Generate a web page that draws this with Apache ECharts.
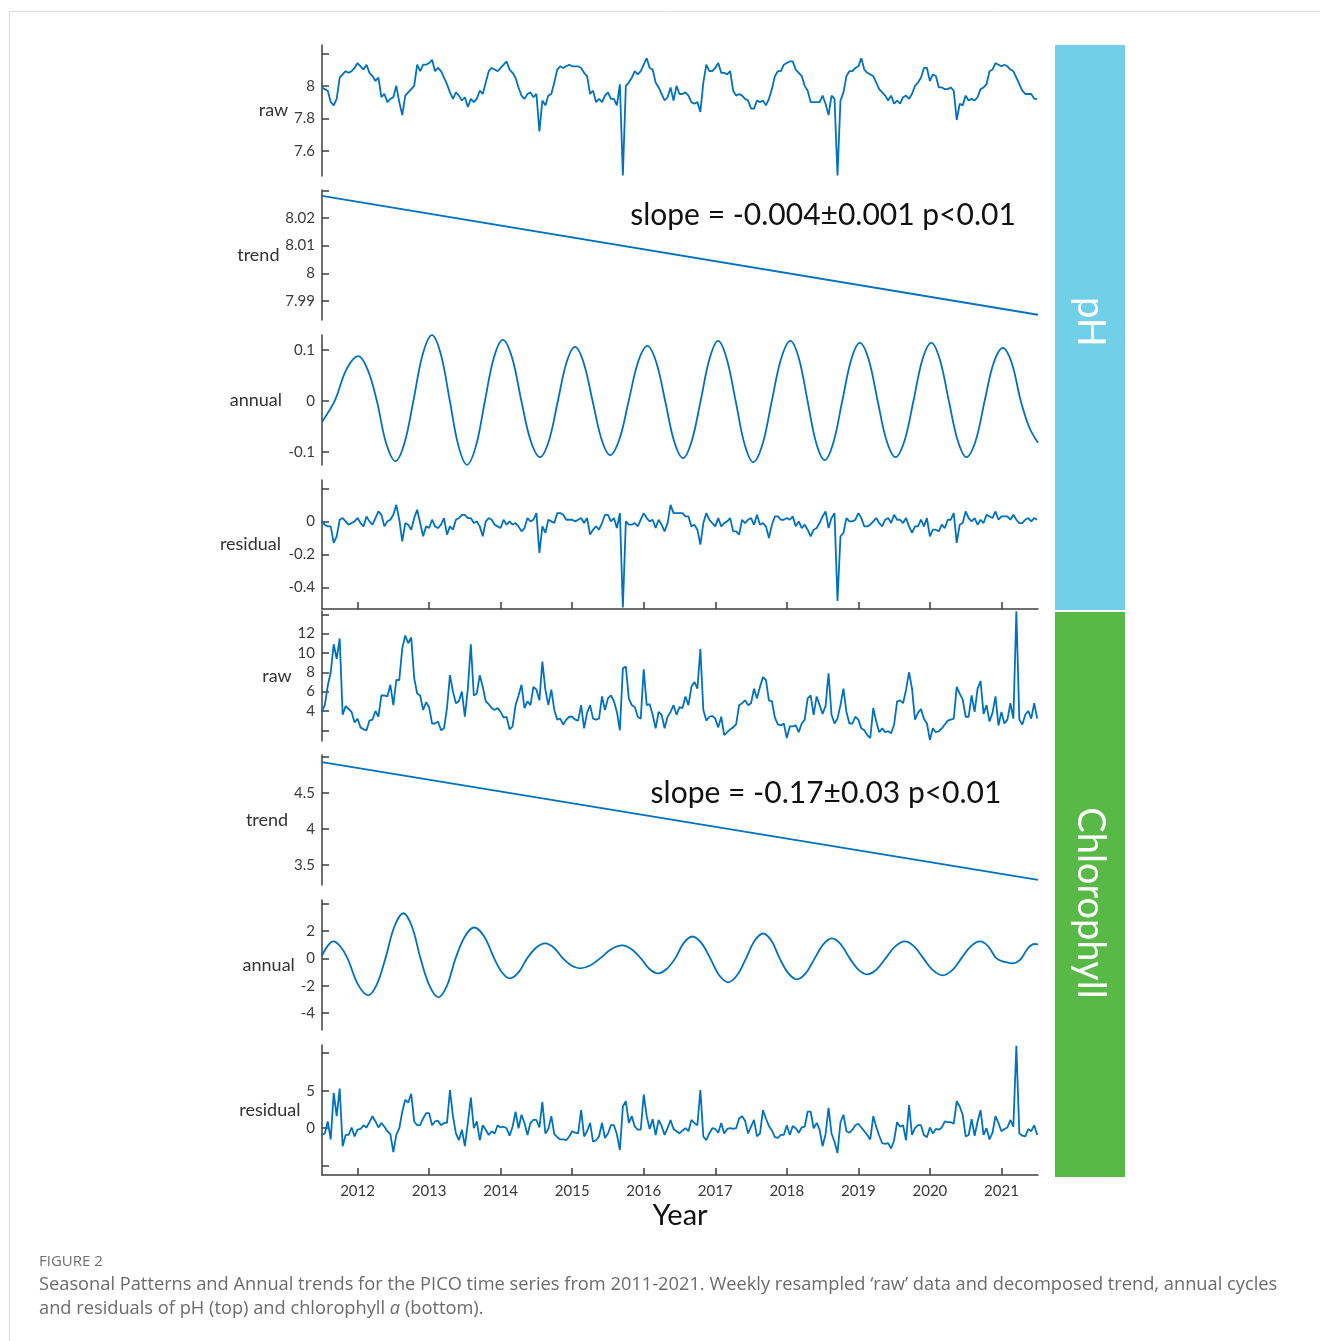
<!DOCTYPE html>
<html>
<head>
<meta charset="utf-8">
<script src="https://cdn.jsdelivr.net/npm/echarts@6/dist/echarts.min.js"></script>
<style>
html,body{margin:0;padding:0;background:#fff;}
#chart{width:1320px;height:1341px;}
</style>
</head>
<body>
<div id="chart"></div>
<script>
// ---------- DATA ----------
const YEARS = [2012, 2013, 2014, 2015, 2016, 2017, 2018, 2019, 2020, 2021];
const START_YEAR = 2011.5;          // first sample
const SAMPLES_PER_YEAR = 24;        // semi-monthly readings

const phRaw = [
  7.99,7.98,7.97,7.90,7.88,7.92,8.05,8.07,8.09,8.08,8.09,8.11,8.14,8.12,8.10,8.13,8.08,8.06,8.03,8.05,7.93,7.95,7.90,7.92,
  7.93,8.00,7.90,7.82,7.94,7.96,7.98,8.00,8.13,8.09,8.13,8.13,8.14,8.16,8.09,8.11,8.09,8.05,8.01,7.96,7.92,7.96,7.94,7.91,
  7.93,7.87,7.92,7.90,7.92,7.97,7.95,8.02,8.09,8.11,8.10,8.09,8.11,8.13,8.15,8.10,8.08,8.05,7.99,7.94,7.92,7.95,7.96,7.93,
  7.95,7.72,7.91,7.88,7.94,7.95,8.02,8.10,8.12,8.11,8.12,8.13,8.12,8.12,8.12,8.11,8.08,8.06,7.95,7.97,7.90,7.92,7.90,7.94,
  7.96,7.92,7.92,7.88,8.01,7.45,8.00,8.02,8.05,8.09,8.07,8.09,8.13,8.17,8.11,8.10,8.02,7.99,7.95,7.91,7.93,7.99,7.91,8.00,
  7.95,7.95,7.96,7.94,7.90,7.89,7.90,7.84,8.02,8.13,8.09,8.09,8.11,8.14,8.08,8.08,8.07,8.09,7.97,7.94,7.95,7.94,7.92,7.91,
  7.86,7.86,7.91,7.90,7.91,7.88,7.92,7.98,8.06,8.09,8.09,8.13,8.14,8.15,8.15,8.10,8.08,8.06,8.00,7.97,7.90,7.90,7.90,7.90,
  7.94,7.89,7.82,7.94,7.92,7.45,7.91,7.96,8.06,8.09,8.09,8.11,8.12,8.17,8.10,8.08,8.07,8.06,8.02,7.98,7.96,7.94,7.91,7.94,
  7.89,7.91,7.89,7.93,7.94,7.92,7.95,8.00,8.02,8.05,8.11,8.11,8.03,8.07,8.06,7.99,7.99,7.98,7.98,7.99,7.97,7.79,7.89,7.88,
  7.94,7.91,7.92,7.91,7.93,7.98,7.99,8.01,8.09,8.10,8.14,8.13,8.12,8.13,8.12,8.10,8.09,8.05,8.01,7.97,7.95,7.95,7.95,7.92,
  7.92
];
const phTrend = [[2011.503, 8.028], [2021.511, 7.985]];
const phAnnual = [
  [2011.503,-0.041],[2011.68,0],[2011.845,0.062],[2012.01,0.088],[2012.14,0.062],[2012.27,0],
  [2012.40,-0.083],[2012.53,-0.118],[2012.655,-0.083],[2012.78,0],[2012.91,0.091],[2013.04,0.129],
  [2013.165,0.091],[2013.29,0],[2013.41,-0.088],[2013.53,-0.125],[2013.655,-0.088],[2013.78,0],
  [2013.905,0.085],[2014.03,0.120],[2014.16,0.085],[2014.29,0],[2014.42,-0.078],[2014.55,-0.110],
  [2014.675,-0.078],[2014.80,0],[2014.92,0.075],[2015.04,0.106],[2015.16,0.075],[2015.285,0],
  [2015.41,-0.075],[2015.53,-0.106],[2015.66,-0.075],[2015.79,0],[2015.92,0.076],[2016.05,0.108],
  [2016.175,0.076],[2016.30,0],[2016.425,-0.079],[2016.55,-0.112],[2016.67,-0.079],[2016.795,0],
  [2016.92,0.083],[2017.04,0.118],[2017.16,0.083],[2017.285,0],[2017.41,-0.085],[2017.53,-0.120],
  [2017.66,-0.085],[2017.79,0],[2017.92,0.083],[2018.05,0.118],[2018.17,0.083],[2018.29,0],
  [2018.41,-0.082],[2018.53,-0.116],[2018.65,-0.082],[2018.775,0],[2018.90,0.081],[2019.02,0.114],
  [2019.145,0.081],[2019.27,0],[2019.395,-0.078],[2019.52,-0.110],[2019.645,-0.078],[2019.77,0],
  [2019.895,0.081],[2020.02,0.114],[2020.14,0.081],[2020.265,0],[2020.39,-0.078],[2020.51,-0.110],
  [2020.64,-0.078],[2020.765,0],[2020.89,0.074],[2021.02,0.104],[2021.145,0.074],[2021.27,0],
  [2021.39,-0.052],[2021.511,-0.082]
];
const phResidual = [
  0.00,-0.02,-0.03,-0.03,-0.13,-0.09,0.01,0.02,0.00,-0.02,-0.01,0.00,0.02,-0.01,-0.03,0.03,0.00,-0.02,0.02,0.06,0.04,-0.03,0.00,0.01,
  0.04,0.10,0.01,-0.12,-0.01,-0.02,-0.05,0.02,0.07,-0.01,-0.09,-0.03,-0.04,0.01,-0.03,-0.04,-0.02,0.02,-0.08,-0.03,-0.05,0.01,0.02,0.04,
  0.04,0.02,0.02,-0.01,0.00,-0.03,-0.09,0.00,0.02,0.01,-0.02,-0.03,-0.04,0.01,-0.02,0.00,-0.02,-0.01,-0.03,-0.06,-0.04,0.02,0.00,0.01,
  0.05,-0.19,-0.03,-0.07,0.01,0.00,-0.01,0.05,0.05,0.04,0.01,0.01,0.01,0.00,0.01,0.02,-0.01,0.02,-0.08,-0.05,-0.03,-0.05,-0.01,0.04,
  0.04,0.00,0.02,-0.04,0.05,-0.52,0.00,-0.02,-0.02,-0.01,-0.03,0.01,0.05,0.02,0.00,0.01,-0.04,0.01,-0.02,-0.06,-0.01,0.10,0.05,0.05,
  0.05,0.05,0.03,0.03,-0.03,-0.02,-0.05,-0.14,-0.01,0.05,0.01,-0.01,-0.03,0.02,-0.03,-0.01,0.00,0.02,-0.06,-0.06,-0.08,0.01,-0.01,0.01,
  0.02,-0.02,0.04,-0.02,-0.01,-0.03,-0.10,-0.02,0.03,0.03,0.01,0.01,0.02,0.01,0.03,-0.03,0.00,-0.04,-0.02,-0.05,-0.09,-0.05,-0.04,-0.01,
  0.03,0.06,-0.04,0.02,0.05,-0.48,-0.09,-0.07,0.02,0.00,0.00,0.01,0.05,0.02,-0.03,-0.03,-0.02,0.00,0.02,-0.01,-0.03,0.01,0.02,-0.01,
  0.04,0.01,0.01,-0.01,0.02,-0.03,-0.07,-0.03,-0.03,0.01,-0.03,0.02,-0.09,-0.05,-0.05,-0.06,-0.02,-0.04,0.01,0.01,0.05,-0.13,-0.02,-0.01,
  0.06,0.02,0.00,0.02,-0.02,0.01,-0.01,0.04,0.03,0.02,0.06,0.01,0.03,0.03,0.03,0.01,0.04,0.01,-0.01,-0.01,0.01,0.02,0.00,0.02,
  0.01
];
const chlRaw = [
  3.9,4.6,6.6,8.0,10.9,9.4,11.5,3.6,4.5,4.2,3.9,2.8,3.2,2.3,2.1,2.0,3.0,3.1,4.0,3.4,5.6,5.6,5.5,6.7,
  4.6,7.2,7.2,10.5,11.8,11.0,11.6,7.4,5.8,5.6,4.1,4.9,4.4,2.7,2.7,2.9,2.0,2.2,4.3,7.7,6.0,4.8,5.0,6.0,
  3.4,6.3,10.9,5.6,5.8,7.7,6.5,5.0,4.7,4.3,4.1,4.3,3.9,3.3,3.4,2.1,2.4,4.6,5.6,6.7,4.3,5.0,4.6,6.5,
  6.2,5.1,9.1,6.2,4.6,6.2,4.1,3.1,3.2,2.6,3.1,3.4,3.4,3.1,3.0,4.6,2.2,3.8,4.6,3.2,3.1,3.2,5.5,4.1,
  5.3,5.6,5.0,3.9,2.0,8.4,8.6,5.3,4.6,4.4,3.4,3.2,8.3,4.6,4.7,3.6,2.2,3.9,3.6,2.2,3.4,3.9,4.6,3.6,
  4.4,4.3,5.5,4.6,6.5,7.0,6.3,10.4,4.1,3.0,3.4,3.5,3.2,2.3,3.4,1.5,1.8,2.1,2.3,2.6,4.6,4.8,5.1,4.6,
  4.8,6.3,5.3,6.5,7.5,7.2,5.1,5.0,3.3,2.6,2.5,2.7,1.2,2.4,2.4,2.5,1.8,2.7,3.1,5.3,5.6,3.6,5.5,4.6,
  3.7,4.5,7.9,3.6,2.7,3.2,4.6,6.3,3.9,2.7,2.7,3.4,3.1,2.2,2.0,1.5,1.2,4.3,2.9,1.8,2.2,1.8,1.9,1.7,
  2.6,5.0,5.1,4.8,6.2,8.0,6.3,3.1,3.8,4.2,3.2,2.7,1.0,2.2,1.8,1.9,2.2,2.6,3.0,3.1,3.2,6.5,5.8,5.2,
  3.4,3.4,5.6,3.9,6.3,7.1,3.7,4.6,2.9,3.8,5.5,2.5,3.9,2.7,3.1,4.8,3.2,14.3,3.1,2.6,3.6,4.0,3.2,4.8,
  3.2
];
const chlTrend = [[2011.503, 4.93], [2021.511, 3.29]];
const chlAnnual = [
  [2011.503,0.2],[2011.58,0.9],[2011.66,1.24],[2011.76,0.87],[2011.86,0],[2012.005,-1.9],[2012.15,-2.7],
  [2012.27,-1.9],[2012.39,0],[2012.515,2.33],[2012.64,3.3],[2012.76,2.33],[2012.88,0],[2013.005,-2.0],
  [2013.13,-2.85],[2013.25,-2.0],[2013.37,0],[2013.50,1.6],[2013.63,2.26],[2013.77,1.6],[2013.91,0],
  [2014.02,-1.03],[2014.13,-1.46],[2014.25,-1.03],[2014.37,0],[2014.495,0.78],[2014.62,1.10],[2014.745,0.78],
  [2014.87,0],[2014.99,-0.52],[2015.11,-0.73],[2015.25,-0.52],[2015.39,0],[2015.545,0.67],[2015.70,0.95],
  [2015.83,0.67],[2015.96,0],[2016.08,-0.78],[2016.20,-1.10],[2016.32,-0.78],[2016.44,0],[2016.56,1.13],
  [2016.68,1.60],[2016.805,1.13],[2016.93,0],[2017.055,-1.24],[2017.18,-1.75],[2017.305,-1.24],[2017.43,0],
  [2017.55,1.29],[2017.67,1.82],[2017.785,1.29],[2017.90,0],[2018.02,-1.08],[2018.14,-1.53],[2018.265,-1.08],
  [2018.39,0],[2018.51,1.03],[2018.63,1.46],[2018.755,1.03],[2018.88,0],[2019.00,-0.83],[2019.12,-1.17],
  [2019.25,-0.83],[2019.38,0],[2019.515,0.88],[2019.65,1.24],[2019.78,0.88],[2019.91,0],[2020.045,-0.88],
  [2020.18,-1.24],[2020.31,-0.88],[2020.44,0],[2020.57,0.88],[2020.70,1.24],[2020.815,0.88],[2020.93,0],
  [2021.045,-0.26],[2021.16,-0.36],[2021.22,-0.26],[2021.28,0],[2021.37,0.74],[2021.46,1.05],[2021.511,1.02]
];
const chlResidual = [
  -0.9,-0.7,0.9,-1.5,4.7,1.6,5.3,-2.4,-0.9,-0.9,0.1,-1.1,-0.2,-0.1,0.4,0.1,0.8,1.6,0.9,0.1,0.7,0.2,-0.4,-0.8,
  -3.2,-0.9,0.0,2.2,3.8,3.4,4.6,0.9,0.4,0.4,1.3,2.0,2.0,0.4,0.9,1.0,0.4,0.7,0.7,5.1,1.6,-0.7,-1.6,-0.2,
  -2.4,0.7,4.1,0.0,0.9,-1.6,0.4,-0.2,-0.9,-0.4,-0.7,0.4,0.1,0.2,0.0,-1.0,0.2,2.2,0.0,1.8,0.7,-0.9,0.7,1.1,
  1.1,0.1,3.5,-0.7,-0.1,1.6,-0.8,-1.2,-1.5,-1.5,-1.6,-1.1,-0.4,-0.6,-0.7,2.4,-1.1,-0.4,0.7,-1.8,-1.6,-1.1,0.7,-1.3,
  -0.7,0.4,0.4,-0.8,-2.9,2.9,3.6,0.7,1.6,0.2,-0.2,-0.2,4.5,1.6,-0.1,1.2,-0.9,1.1,0.3,-0.9,0.0,1.1,-0.1,-0.4,
  -0.7,-0.3,0.0,-0.4,1.1,0.7,0.4,5.1,-1.1,-1.6,-0.7,0.0,-0.1,-0.6,0.7,-0.7,-0.1,0.0,-0.1,0.0,1.3,1.6,1.0,-0.7,
  0.2,1.1,-1.1,-0.7,2.4,1.3,0.3,-0.3,-1.2,-1.3,-0.9,-0.9,0.4,-0.9,0.3,0.0,-0.6,0.1,0.2,2.2,2.2,0.0,0.7,-0.2,
  -2.4,-0.8,2.7,-0.7,-1.8,-3.3,0.8,1.8,-0.4,-0.6,-0.2,0.4,0.6,0.1,-0.4,-0.9,-1.5,1.6,0.2,-1.0,-2.0,-2.1,-2.0,-2.7,
  -1.6,0.8,0.2,0.4,-1.6,3.1,-0.9,0.0,0.4,0.4,-0.9,-1.2,0.1,-0.7,-0.1,-0.2,0.1,0.9,0.8,0.8,0.6,3.6,2.9,1.8,
  -1.1,-0.9,1.2,-1.0,0.9,2.4,-0.9,0.0,-1.5,-0.6,1.6,0.7,-0.4,-0.1,0.1,1.1,0.2,11.0,-0.7,-1.0,-1.1,-0.1,-0.4,0.4,
  -0.9
];

// axis ticks (all ticks / labelled ticks)
const phRawTicks = [7.6, 7.8, 8.0, 8.2],      phRawLabels = [7.6, 7.8, 8.0];
const phTrendTicks = [7.99, 8.0, 8.01, 8.02, 8.03], phTrendLabels = [7.99, 8.0, 8.01, 8.02];
const phAnnTicks = [-0.1, 0, 0.1],            phAnnLabels = [-0.1, 0, 0.1];
const phResTicks = [-0.4, -0.2, 0, 0.2],      phResLabels = [-0.4, -0.2, 0];
const chlRawTicks = [2, 4, 6, 8, 10, 12, 14], chlRawLabels = [4, 6, 8, 10, 12];
const chlTrendTicks = [3.5, 4, 4.5, 5],       chlTrendLabels = [3.5, 4, 4.5];
const chlAnnTicks = [-4, -2, 0, 2, 4],        chlAnnLabels = [-4, -2, 0, 2];
const chlResTicks = [-5, 0, 5, 10],           chlResLabels = [0, 5];

const phSlopeText = 'slope = -0.004\u00B10.001 p<0.01';
const chlSlopeText = 'slope = -0.17\u00B10.03 p<0.01';

// ---------- LAYOUT / STYLE ----------
const X_MIN = 2011.503, X_MAX = 2021.511;
const PLOT_LEFT = 322, PLOT_W = 716;
const LINE_COLOR = '#0072BD';
const AXIS_COLOR = '#3f3f3f';
const FONT = 'Lato, "Noto Sans", sans-serif';
const CAPTION_FONT = '"Open Sans", "Noto Sans", sans-serif';

function series(vals) {
  return vals.map((v, i) => [START_YEAR + i / SAMPLES_PER_YEAR, v]);
}

const panels = [
  {name:'raw',      top:45,   h:131, min:7.446, max:8.251, ticks:phRawTicks,   labels:phRawLabels,   gap:33, data:series(phRaw)},
  {name:'trend',    top:190,  h:130, min:7.9831,max:8.0301,ticks:phTrendTicks, labels:phTrendLabels, gap:41, data:phTrend},
  {name:'annual',   top:335,  h:130, min:-0.1255,max:0.1294,ticks:phAnnTicks,  labels:phAnnLabels,   gap:40, data:phAnnual, smooth:true},
  {name:'residual', top:480,  h:129, min:-0.529,max:0.25,  ticks:phResTicks,   labels:phResLabels,   gap:41, data:series(phResidual), xaxis:'mid'},
  {name:'raw',      top:611,  h:130, min:0.89,  max:14.34, ticks:chlRawTicks,  labels:chlRawLabels,  gap:28, data:series(chlRaw)},
  {name:'trend',    top:755,  h:130, min:3.22,  max:5.03,  ticks:chlTrendTicks,labels:chlTrendLabels,gap:32, data:chlTrend},
  {name:'annual',   top:900,  h:130, min:-5.24, max:4.27,  ticks:chlAnnTicks,  labels:chlAnnLabels,  gap:25, data:chlAnnual, smooth:true},
  {name:'residual', top:1045, h:130, min:-6.24, max:11.1,  ticks:chlResTicks,  labels:chlResLabels,  gap:21, data:series(chlResidual), xaxis:'bottom'}
];

function fmt(v) { return String(Math.round(v * 1000) / 1000); }

const grid = [], xAxis = [], yAxis = [], seriesList = [];
panels.forEach((p, k) => {
  grid.push({left: PLOT_LEFT, width: PLOT_W, top: p.top, height: p.h});
  const showX = !!p.xaxis;
  xAxis.push({
    gridIndex: k, type: 'value', min: X_MIN, max: X_MAX,
    show: showX,
    axisLine: {show: showX, onZero: false, lineStyle: {color: AXIS_COLOR, width: 1.5}},
    axisTick: {show: showX, inside: true, length: 7, customValues: YEARS, lineStyle: {color: AXIS_COLOR, width: 1.5}},
    axisLabel: {show: p.xaxis === 'bottom', customValues: YEARS, margin: 9, color: '#3a3a3a', fontSize: 15, fontFamily: FONT, formatter: v => String(Math.round(v))},
    splitLine: {show: false},
    name: p.xaxis === 'bottom' ? 'Year' : '',
    nameLocation: 'middle', nameGap: 26,
    nameTextStyle: {fontSize: 29, color: '#111', fontFamily: FONT}
  });
  yAxis.push({
    gridIndex: k, type: 'value', min: p.min, max: p.max,
    axisLine: {show: true, onZero: false, lineStyle: {color: AXIS_COLOR, width: 1.5}},
    axisTick: {show: true, inside: true, length: 7, customValues: p.ticks, lineStyle: {color: AXIS_COLOR, width: 1.5}},
    axisLabel: {show: true, customValues: p.labels, margin: 7, color: '#3a3a3a', fontSize: 15, fontFamily: FONT, formatter: fmt},
    splitLine: {show: false},
    name: p.name, nameLocation: 'middle', nameRotate: 0, nameGap: p.gap,
    nameTextStyle: {fontSize: 18, color: '#333', fontFamily: FONT, align: 'right', verticalAlign: 'middle'}
  });
  seriesList.push({
    type: 'line', xAxisIndex: k, yAxisIndex: k, data: p.data,
    showSymbol: false, smooth: p.smooth ? 0.35 : false, clip: true,
    lineStyle: {color: LINE_COLOR, width: 1.8}, silent: true
  });
});

const graphic = [
  // light frame
  {type: 'line', shape: {x1: 9.5, y1: 11.5, x2: 1320, y2: 11.5}, style: {stroke: '#dcdcdc', lineWidth: 1}},
  {type: 'line', shape: {x1: 9.5, y1: 11.5, x2: 9.5, y2: 1341}, style: {stroke: '#dcdcdc', lineWidth: 1}},
  // side bands
  {type: 'rect', shape: {x: 1055, y: 45, width: 70, height: 565}, style: {fill: '#72CFE8'}},
  {type: 'rect', shape: {x: 1055, y: 612, width: 70, height: 565}, style: {fill: '#58B947'}},
  {type: 'text', x: 1090, y: 322, rotation: -Math.PI / 2,
   style: {text: 'pH', fill: '#fff', fontSize: 38, fontFamily: FONT, align: 'center', verticalAlign: 'middle'}},
  {type: 'text', x: 1090, y: 903, rotation: -Math.PI / 2,
   style: {text: 'Chlorophyll', fill: '#fff', fontSize: 38, fontFamily: FONT, align: 'center', verticalAlign: 'middle'}},
  // slope annotations
  {type: 'text', x: 823, y: 215, style: {text: phSlopeText, fill: '#111', fontSize: 30, fontFamily: FONT, align: 'center', verticalAlign: 'middle'}},
  {type: 'text', x: 826, y: 793, style: {text: chlSlopeText, fill: '#111', fontSize: 30, fontFamily: FONT, align: 'center', verticalAlign: 'middle'}},
  // caption
  {type: 'text', x: 39, y: 1262, style: {text: 'FIGURE 2', fill: '#6e6e6e', fontSize: 15, fontFamily: CAPTION_FONT, verticalAlign: 'middle'}},
  {type: 'text', x: 39, y: 1285, style: {text: 'Seasonal Patterns and Annual trends for the PICO time series from 2011-2021. Weekly resampled \u2018raw\u2019 data and decomposed trend, annual cycles', fill: '#6b6b6b', fontSize: 18.25, fontFamily: CAPTION_FONT, verticalAlign: 'middle'}},
  {type: 'text', x: 39, y: 1309, style: {text: 'and residuals of pH (top) and chlorophyll {i|a} (bottom).', fill: '#6b6b6b', fontSize: 18.25, fontFamily: CAPTION_FONT, verticalAlign: 'middle',
    rich: {i: {fontStyle: 'italic', fontSize: 18.25, fontFamily: CAPTION_FONT, fill: '#6b6b6b'}}}}
];

const chart = echarts.init(document.getElementById('chart'), null, {renderer: 'canvas'});
chart.setOption({
  animation: false,
  backgroundColor: '#fff',
  grid, xAxis, yAxis, series: seriesList, graphic
});
</script>
</body>
</html>
